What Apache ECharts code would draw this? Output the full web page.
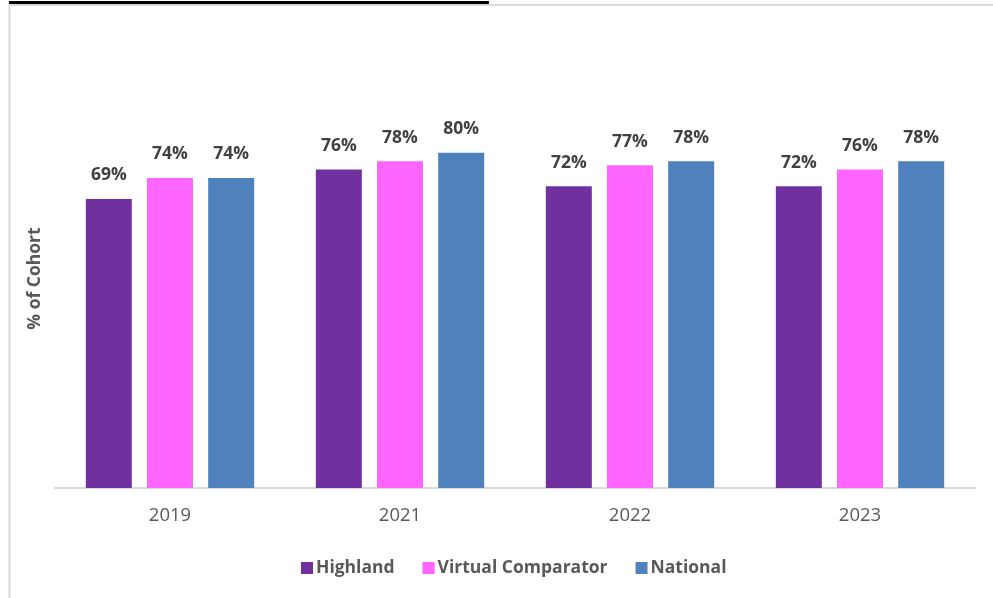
<!DOCTYPE html>
<html>
<head>
<meta charset="utf-8">
<script src="https://cdn.jsdelivr.net/npm/echarts@6/dist/echarts.min.js"></script>
<style>
html,body{margin:0;padding:0;background:#fff;}
#chartDiv{width:993px;height:598px;}
</style>
</head>
<body>
<div id="chartDiv"></div>
<script>
var years = ['2019', '2021', '2022', '2023'];
var highland = [69, 76, 72, 72];
var virtualComparator = [74, 78, 77, 76];
var national = [74, 80, 78, 78];

var myChart = echarts.init(document.getElementById('chartDiv'));

var font = '"Open Sans", sans-serif';

var barSeries = function(name, data, color){
    return {
        name: name,
        type: 'bar',
        data: data,
        barWidth: 46,
        barGap: '33%',
        itemStyle: {color: color},
        label: {
            show: true,
            position: 'top',
            distance: 14.5,
            formatter: '{c}%',
            color: '#404040',
            fontFamily: font,
            fontWeight: 'bold',
            fontSize: 17.5
        }
    }
}

var option = {
    animation: false,
    backgroundColor: '#fff',
    graphic: [
        // frame like the source slide
        {type: 'rect', shape: {x: 9.5, y: 5, width: 1000, height: 700}, style: {fill: 'none', stroke: '#d9d9d9', lineWidth: 2}},
        {type: 'rect', shape: {x: 9, y: 1, width: 480, height: 3}, style: {fill: '#000'}}
    ],
    grid: {left: 55, right: 18, top: 69, bottom: 110},
    legend: {
        bottom: 16,
        left: 296,
        itemWidth: 12,
        itemHeight: 12,
        itemGap: 28,
        icon: 'rect',
        textStyle: {color: '#595959', fontFamily: font, fontWeight: 'bold', fontSize: 17.5, padding: [0, 0, 0, -2]}
    },
    xAxis: {
        type: 'category',
        data: years,
        axisLine: {lineStyle: {color: '#d9d9d9', width: 2}},
        axisTick: {show: false},
        axisLabel: {color: '#595959', fontFamily: font, fontSize: 18.5, margin: 18}
    },
    yAxis: {
        type: 'value',
        min: 0,
        max: 100,
        name: '% of Cohort',
        nameLocation: 'middle',
        nameGap: 11,
        nameRotate: 90,
        nameTextStyle: {color: '#595959', fontFamily: font, fontWeight: 'bold', fontSize: 17.5},
        axisLine: {show: false},
        axisTick: {show: false},
        axisLabel: {show: false},
        splitLine: {show: false}
    },
    series: [
        barSeries('Highland', highland, '#7030A0'),
        barSeries('Virtual Comparator', virtualComparator, '#FF66FF'),
        barSeries('National', national, '#4F81BD')
    ]
};

myChart.setOption(option);
</script>
</body>
</html>
